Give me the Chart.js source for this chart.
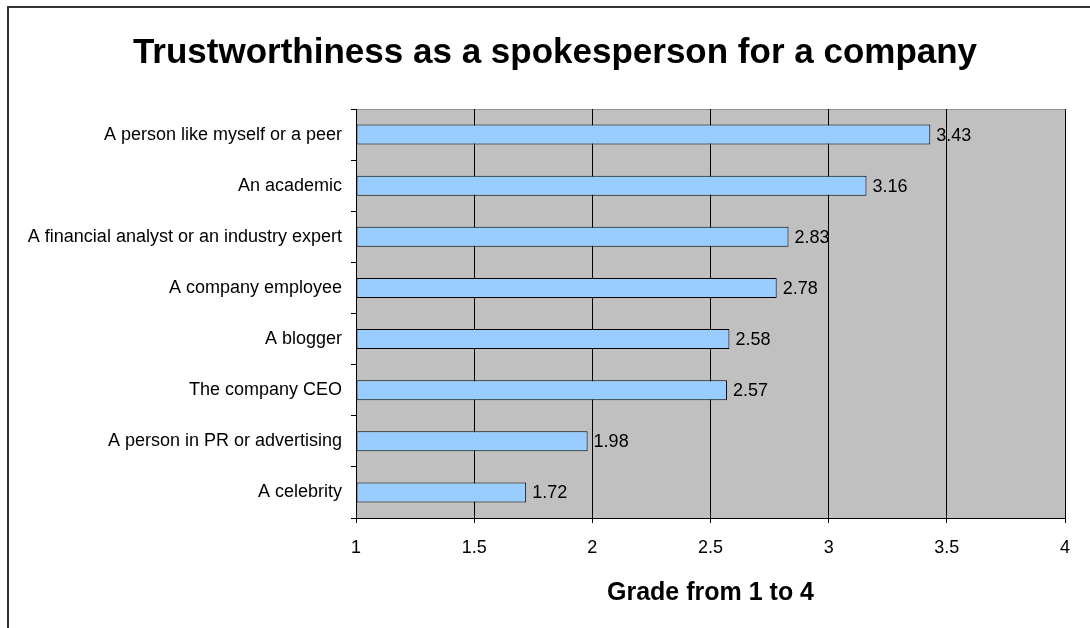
<!DOCTYPE html>
<html>
<head>
<meta charset="utf-8">
<script src="https://cdn.jsdelivr.net/npm/chart.js@4/dist/chart.umd.min.js"></script>
<style>
  html, body { margin: 0; padding: 0; background: #fff; }
  #wrap { width: 1090px; height: 628px; }
</style>
</head>
<body>
<div id="wrap"><canvas id="chart" width="1090" height="628"></canvas></div>
<script>
// --- Données ---
const categories = [
    'A person like myself or a peer',
    'An academic',
    'A financial analyst or an industry expert',
    'A company employee',
    'A blogger',
    'The company CEO',
    'A person in PR or advertising',
    'A celebrity'
];
const grades = [3.43, 3.16, 2.83, 2.78, 2.58, 2.57, 1.98, 1.72];
const gradeTicks = [1, 1.5, 2, 2.5, 3, 3.5, 4];
const chartTitle = 'Trustworthiness as a spokesperson for a company';

const FONT = '"Liberation Sans", Arial, sans-serif';

// cadre extérieur + fond gris de la zone de tracé
const backdrop = {
    id: 'backdrop',
    beforeDraw(chart) {
        const c = chart.ctx, a = chart.chartArea;
        c.save();
        c.strokeStyle = '#333';
        c.lineWidth = 2;
        c.beginPath();
        c.moveTo(8, 640);
        c.lineTo(8, 7);
        c.lineTo(1100, 7);
        c.stroke();
        c.fillStyle = '#c0c0c0';
        c.fillRect(a.left, a.top, a.right - a.left, a.bottom - a.top);
        c.strokeStyle = '#909090';
        c.lineWidth = 1;
        c.beginPath();
        c.moveTo(a.left, a.top + 0.5);
        c.lineTo(a.right + 0.5, a.top + 0.5);
        c.lineTo(a.right + 0.5, a.bottom);
        c.stroke();
        // titre (légèrement décalé à droite comme sur l'original)
        c.font = 'bold 35px ' + FONT;
        c.fillStyle = '#000';
        c.textAlign = 'center';
        c.textBaseline = 'alphabetic';
        c.fillText(chartTitle, 555, 63);
        c.restore();
    }
};

// étiquettes de valeurs à droite des barres
const valueLabels = {
    id: 'valueLabels',
    afterDatasetsDraw(chart) {
        const c = chart.ctx;
        c.save();
        c.font = '18px ' + FONT;
        c.fillStyle = '#000';
        c.textAlign = 'left';
        c.textBaseline = 'middle';
        chart.getDatasetMeta(0).data.forEach((bar, i) => {
            c.fillText(grades[i].toFixed(2), bar.x + 6, bar.y + 1);
        });
        c.restore();
    }
};

new Chart(document.getElementById('chart'), {
    type: 'bar',
    data: {
        labels: categories,
        datasets: [{
            data: grades,
            base: 1,
            backgroundColor: '#99ccff',
            borderColor: '#000',
            borderWidth: 1,
            borderSkipped: false,
            categoryPercentage: 1,
            barPercentage: 0.39
        }]
    },
    options: {
        indexAxis: 'y',
        responsive: false,
        animation: false,
        devicePixelRatio: 1,
        layout: { padding: { left: 0, right: 25, top: 109, bottom: 0 } },
        plugins: {
            legend: { display: false },
            tooltip: { enabled: false },
            title: { display: false }
        },
        scales: {
            x: {
                type: 'linear',
                min: 1,
                max: 4,
                afterBuildTicks: axis => { axis.ticks = gradeTicks.map(v => ({ value: v })); },
                afterFit: axis => { axis.height = 110; },
                ticks: {
                    color: '#000',
                    font: { family: FONT, size: 18 },
                    padding: 14,
                    callback: v => String(v)
                },
                grid: {
                    color: '#000',
                    lineWidth: 1,
                    tickLength: 5,
                    drawTicks: true
                },
                border: { display: true, color: '#000', width: 1 },
                title: {
                    display: true,
                    text: 'Grade from 1 to 4',
                    color: '#000',
                    font: { family: FONT, size: 25, weight: 'bold' },
                    padding: { top: 0, bottom: 20 }
                }
            },
            y: {
                afterFit: axis => { axis.width = 356; },
                ticks: {
                    color: '#000',
                    font: { family: FONT, size: 18 },
                    padding: 9
                },
                grid: {
                    drawOnChartArea: false,
                    drawTicks: true,
                    tickLength: 5,
                    color: '#000'
                },
                border: { display: true, color: '#000', width: 1 }
            }
        }
    },
    plugins: [backdrop, valueLabels]
});
</script>
</body>
</html>
